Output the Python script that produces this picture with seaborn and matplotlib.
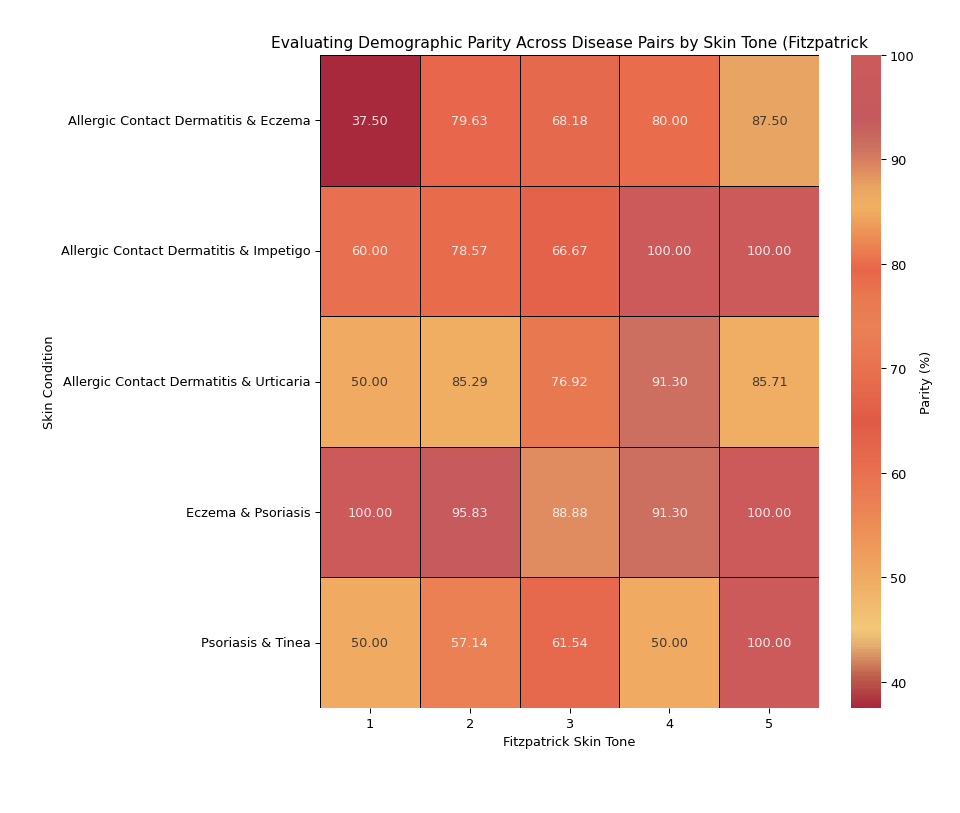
import numpy as np
import pandas as pd
import matplotlib
matplotlib.use("Agg")
import matplotlib.pyplot as plt
import seaborn as sns
from matplotlib.colors import LinearSegmentedColormap

conditions = [
    "Allergic Contact Dermatitis & Eczema",
    "Allergic Contact Dermatitis & Impetigo",
    "Allergic Contact Dermatitis & Urticaria",
    "Eczema & Psoriasis",
    "Psoriasis & Tinea",
]
skin_tones = [1, 2, 3, 4, 5]
parity = [
    [37.50, 79.63, 68.18, 80.00, 87.50],
    [60.00, 78.57, 66.67, 100.00, 100.00],
    [50.00, 85.29, 76.92, 91.30, 85.71],
    [100.00, 95.83, 88.88, 91.30, 100.00],
    [50.00, 57.14, 61.54, 50.00, 100.00],
]

df = pd.DataFrame(parity, index=conditions, columns=skin_tones)

# colour stops
vmin, vmax = 37.5, 100.0
stops = [
    (37.5, "#a8283c"), (40.5, "#c0604e"), (43.5, "#e6b070"), (45.0, "#f2c878"),
    (50.0, "#f0aa62"), (55.0, "#ec8c56"), (60.0, "#e87050"), (65.0, "#e05a46"),
    (70.0, "#e87250"), (74.0, "#ea8056"), (77.0, "#e87850"), (79.5, "#e8644a"),
    (82.0, "#ec8652"), (85.5, "#f0b064"), (87.5, "#e8a462"), (89.0, "#e08c60"),
    (91.3, "#cc7060"), (94.0, "#c45a5e"), (100.0, "#cc5a5a"),
]
cmap = LinearSegmentedColormap.from_list(
    "parity", [((v - vmin) / (vmax - vmin), c) for v, c in stops])

DPI = 93
fig = plt.figure(figsize=(960 / DPI, 814 / DPI), dpi=DPI)
ax = fig.add_axes([320 / 960, 1 - 709 / 814, 499 / 960, 653 / 814])
cax = fig.add_axes([851 / 960, 1 - 709 / 814, 30 / 960, 653 / 814])

sns.heatmap(df, ax=ax, cbar_ax=cax, cmap=cmap, vmin=vmin, vmax=vmax,
            annot=True, fmt=".2f", linewidths=0.5, linecolor="black",
            annot_kws={"fontsize": 10, "alpha": 0.85},
            cbar_kws={"label": "Parity (%)"})
cax.tick_params(labelsize=10)
for s in cax.spines.values():
    s.set_visible(False)

ax.set_title("Evaluating Demographic Parity Across Disease Pairs by Skin Tone (Fitzpatrick",
             fontsize=12)
ax.set_xlabel("Fitzpatrick Skin Tone")
ax.set_ylabel("Skin Condition")
ax.tick_params(axis="y", rotation=0)
ax.tick_params(axis="x", rotation=0)

fig.savefig("out.png", dpi=DPI)
